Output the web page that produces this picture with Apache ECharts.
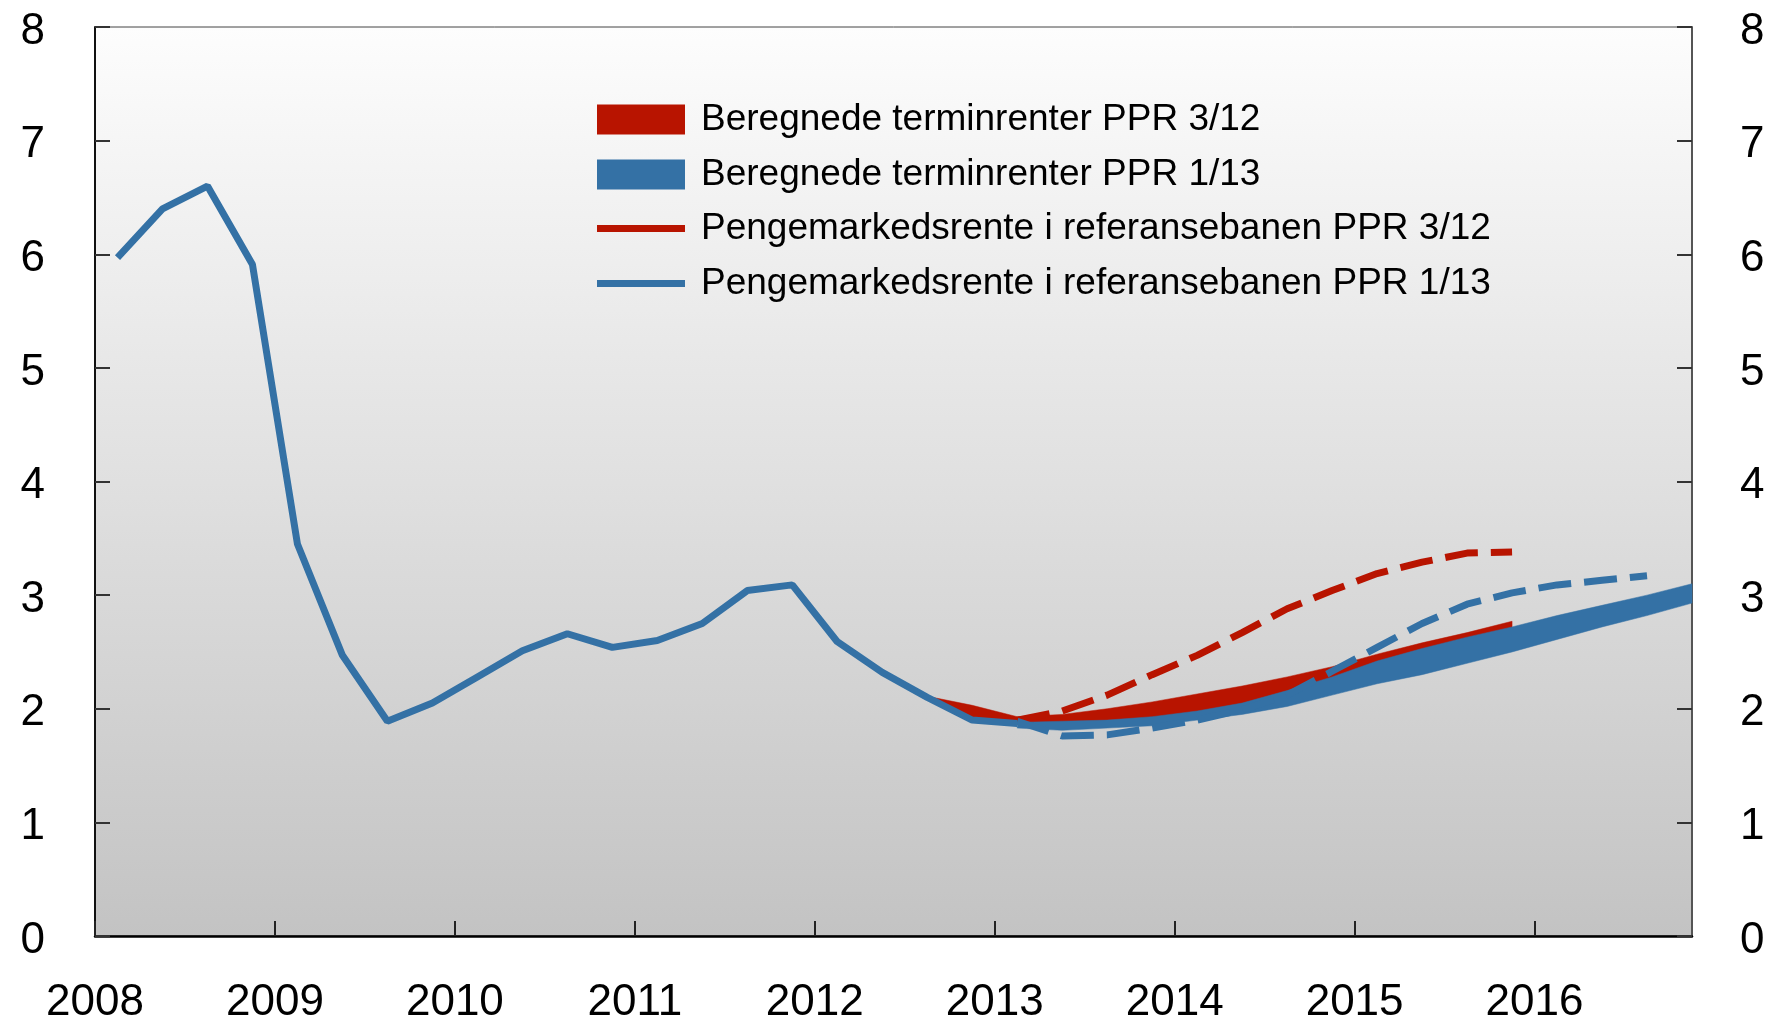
<!DOCTYPE html>
<html>
<head>
<meta charset="utf-8">
<script src="https://cdn.jsdelivr.net/npm/echarts@6/dist/echarts.min.js"></script>
<style>
  html, body { margin: 0; padding: 0; background: #fff; }
  #chart { width: 1768px; height: 1025px; }
</style>
</head>
<body>
<div id="chart"></div>
<script>
// tick labels
const yearTicks = [2008, 2009, 2010, 2011, 2012, 2013, 2014, 2015, 2016];

// historisk pengemarkedsrente, kvartal (midt i kvartalet)
const histQuarters = [2008.125, 2008.375, 2008.625, 2008.875, 2009.125, 2009.375, 2009.625, 2009.875,
  2010.125, 2010.375, 2010.625, 2010.875, 2011.125, 2011.375, 2011.625, 2011.875,
  2012.125, 2012.375, 2012.625, 2012.875, 2013.125];
const histRate = [5.97, 6.40, 6.60, 5.91, 3.45, 2.47, 1.89, 2.05,
  2.28, 2.51, 2.66, 2.54, 2.60, 2.75, 3.04, 3.09,
  2.59, 2.32, 2.10, 1.90, 1.87];

// Beregnede terminrenter PPR 3/12 (band)
const fwd312Quarters = [2012.625, 2012.875, 2013.125, 2013.375, 2013.625, 2013.875, 2014.125,
  2014.375, 2014.625, 2014.875, 2015.125, 2015.375, 2015.625, 2015.875];
const fwd312Upper = [2.11, 2.03, 1.93, 1.95, 2.00, 2.06, 2.13, 2.20, 2.28, 2.37, 2.48, 2.58, 2.67, 2.77];
const fwd312Lower = [2.10, 1.91, 1.87, 1.86, 1.88, 1.91, 1.96, 2.03, 2.12, 2.24, 2.37, 2.48, 2.58, 2.68];

// Beregnede terminrenter PPR 1/13 (band)
const fwd113Quarters = [2013.125, 2013.375, 2013.625, 2013.875, 2014.125, 2014.375, 2014.625, 2014.875,
  2015.125, 2015.375, 2015.625, 2015.875, 2016.125, 2016.375, 2016.625, 2016.875];
const fwd113Upper = [1.88, 1.89, 1.90, 1.93, 1.98, 2.05, 2.16, 2.28, 2.42, 2.53, 2.63, 2.72, 2.82, 2.91, 3.00, 3.10];
const fwd113Lower = [1.83, 1.81, 1.83, 1.85, 1.90, 1.95, 2.02, 2.12, 2.22, 2.30, 2.40, 2.50, 2.61, 2.72, 2.82, 2.93];

// Pengemarkedsrente i referansebanen PPR 3/12
const ref312Quarters = [2013.125, 2013.375, 2013.625, 2013.875, 2014.125, 2014.375, 2014.625,
  2014.875, 2015.125, 2015.375, 2015.625, 2015.875];
const ref312Rate = [1.90, 1.98, 2.12, 2.30, 2.47, 2.67, 2.88, 3.04, 3.19, 3.29, 3.37, 3.38];

// Pengemarkedsrente i referansebanen PPR 1/13
const ref113Quarters = [2013.125, 2013.375, 2013.625, 2013.875, 2014.125, 2014.375, 2014.625, 2014.875,
  2015.125, 2015.375, 2015.625, 2015.875, 2016.125, 2016.375, 2016.625];
const ref113Rate = [1.89, 1.76, 1.77, 1.83, 1.90, 1.99, 2.12, 2.33, 2.54, 2.75, 2.92, 3.02, 3.09, 3.13, 3.17];

const RED = '#b81400';
const BLUE = '#3471a5';
const FONT = '"Liberation Sans", Arial, Helvetica, sans-serif';

const pairs = (xs, ys) => xs.map((x, i) => [x, ys[i]]);

// band mellom nedre og øvre kant, tegnet som ett polygon
function bandSeries(name, color, xs, lo, up) {
  return {
    name: name,
    type: 'custom',
    color: color,
    itemStyle: { color: color },
    data: xs.map((x, i) => [x, lo[i], up[i]]),
    encode: { x: 0, y: [1, 2] },
    renderItem: function (params, api) {
      if (params.dataIndex !== 0) return null;
      const top = xs.map((x, i) => api.coord([x, up[i]]));
      const bot = xs.map((x, i) => api.coord([x, lo[i]])).reverse();
      return {
        type: 'polygon',
        shape: { points: top.concat(bot) },
        style: { fill: color, stroke: color, lineWidth: 0.5 }
      };
    }
  };
}

const chart = echarts.init(document.getElementById('chart'));

const yAxisBase = {
  type: 'value',
  min: 0,
  max: 8,
  interval: 1,
  splitLine: { show: false },
  axisTick: { inside: true, length: 15, lineStyle: { color: '#333', width: 2 } },
  // top-justert med lav linjehøyde flytter sifrene litt ned, midt på tikken
  axisLabel: { fontSize: 44, color: '#000', fontFamily: FONT, verticalAlign: 'top', lineHeight: 9 }
};

const legendText = { fontSize: 37, lineHeight: 37, color: '#000', fontFamily: FONT, padding: [0, 0, 0, 11] };

const option = {
  animation: false,
  backgroundColor: '#fff',
  grid: {
    left: 95, right: 76, top: 27, bottom: 87,
    show: true,
    borderColor: '#444',
    borderWidth: 1,
    backgroundColor: new echarts.graphic.LinearGradient(0, 0, 0, 1, [
      { offset: 0, color: '#fdfdfd' },
      { offset: 1, color: '#c3c3c3' }
    ])
  },
  legend: [
    {
      orient: 'vertical',
      left: 592,
      top: 96,
      icon: 'rect',
      itemWidth: 88,
      itemHeight: 30,
      itemGap: 18,
      selectedMode: false,
      textStyle: legendText,
      data: ['Beregnede terminrenter PPR 3/12', 'Beregnede terminrenter PPR 1/13']
    },
    {
      orient: 'vertical',
      left: 592,
      top: 205,
      icon: 'rect',
      itemWidth: 88,
      itemHeight: 7,
      itemGap: 18,
      selectedMode: false,
      textStyle: legendText,
      data: ['Pengemarkedsrente i referansebanen PPR 3/12', 'Pengemarkedsrente i referansebanen PPR 1/13']
    }
  ],
  xAxis: {
    type: 'value',
    min: 2008,
    max: 2016.875,
    interval: 1,
    splitLine: { show: false },
    axisLine: { lineStyle: { color: '#000', width: 2.5 } },
    axisTick: { inside: true, length: 15, lineStyle: { color: '#222', width: 2 } },
    axisLabel: {
      fontSize: 44,
      color: '#000',
      fontFamily: FONT,
      margin: 45,
      showMaxLabel: false,
      formatter: v => (yearTicks.indexOf(v) >= 0 ? String(v) : '')
    }
  },
  yAxis: [
    Object.assign({}, yAxisBase, {
      position: 'left',
      axisLine: { show: true, lineStyle: { color: '#111', width: 2 } },
      axisLabel: Object.assign({}, yAxisBase.axisLabel, { margin: 50 })
    }),
    Object.assign({}, yAxisBase, {
      position: 'right',
      axisLine: { show: true, lineStyle: { color: '#555', width: 2 } },
      axisLabel: Object.assign({}, yAxisBase.axisLabel, { margin: 48 })
    })
  ],
  series: [
    bandSeries('Beregnede terminrenter PPR 3/12', RED, fwd312Quarters, fwd312Lower, fwd312Upper),
    bandSeries('Beregnede terminrenter PPR 1/13', BLUE, fwd113Quarters, fwd113Lower, fwd113Upper),
    {
      name: 'Pengemarkedsrente i referansebanen PPR 3/12',
      type: 'line', symbol: 'none', color: RED,
      lineStyle: { width: 7, color: RED, type: [33, 13] },
      data: pairs(ref312Quarters, ref312Rate)
    },
    {
      name: 'Pengemarkedsrente i referansebanen PPR 1/13',
      type: 'line', symbol: 'none', color: BLUE,
      lineStyle: { width: 7, color: BLUE, type: [33, 13] },
      data: pairs(ref113Quarters, ref113Rate)
    },
    {
      type: 'line', symbol: 'none', color: BLUE,
      lineStyle: { width: 7, color: BLUE },
      data: pairs(histQuarters, histRate)
    }
  ]
};

chart.setOption(option);
</script>
</body>
</html>
